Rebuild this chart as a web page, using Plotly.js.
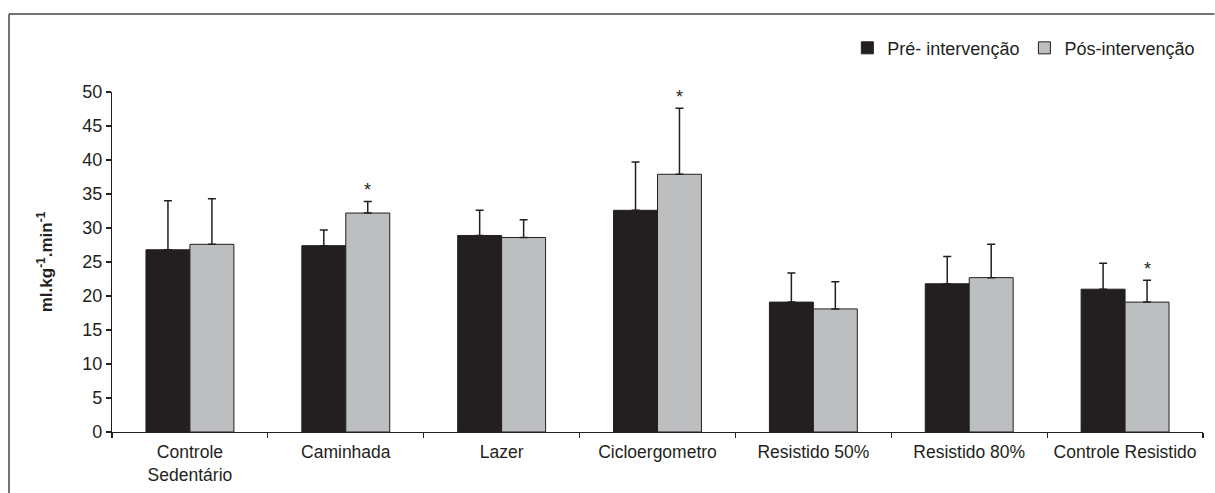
<!DOCTYPE html>
<html>
<head>
<meta charset="utf-8">
<script src="https://cdn.plot.ly/plotly-3.0.1.min.js"></script>
<style>html,body{margin:0;padding:0;background:#fff;overflow:hidden;}#chart{width:1215px;height:493px;}</style>
</head>
<body>
<div id="chart"></div>
<script>
const categories = ["Controle<br>Sedentário", "Caminhada", "Lazer", "Cicloergometro", "Resistido 50%", "Resistido 80%", "Controle Resistido"];
const preValues = [26.8, 27.4, 28.9, 32.6, 19.1, 21.8, 21.0];
const preErrors = [7.2, 2.3, 3.7, 7.1, 4.3, 4.0, 3.8];
const postValues = [27.6, 32.2, 28.6, 37.9, 18.1, 22.7, 19.1];
const postErrors = [6.7, 1.7, 2.6, 9.7, 4.0, 4.9, 3.2];
const seriesNames = ["Pré- intervenção", "Pós-intervenção"];
const significant = [false, true, false, true, false, false, true];

const ink = "#231f20";
const fontFam = "Liberation Sans, Arial, sans-serif";

const traces = [
  {
    type: "bar", name: seriesNames[0], x: categories, y: preValues,
    marker: {color: ink, line: {color: ink, width: 1}},
    error_y: {type: "data", array: preErrors, symmetric: false, arrayminus: preErrors.map(() => 0), color: ink, thickness: 1.5, width: 4}
  },
  {
    type: "bar", name: seriesNames[1], x: categories, y: postValues,
    marker: {color: "#bcbec0", line: {color: ink, width: 1}},
    error_y: {type: "data", array: postErrors, symmetric: false, arrayminus: postErrors.map(() => 0), color: ink, thickness: 1.5, width: 4}
  }
];

const annotations = [];
categories.forEach((c, i) => {
  if (significant[i]) {
    annotations.push({
      x: c, y: postValues[i] + postErrors[i], xref: "x", yref: "y",
      text: "*", showarrow: false, xshift: 22, yanchor: "bottom", yshift: -1,
      font: {family: fontFam, size: 18, color: ink}
    });
  }
});

const layout = {
  width: 1215, height: 493,
  margin: {l: 112, r: 12, t: 92, b: 61},
  paper_bgcolor: "#fff", plot_bgcolor: "#fff",
  font: {family: fontFam, size: 18, color: ink},
  barmode: "group", bargap: 0.436, bargroupgap: 0,
  showlegend: true,
  legend: {orientation: "h", x: 0.674, xanchor: "left", y: 1.129, yanchor: "middle",
           font: {family: fontFam, size: 18, color: ink}, itemwidth: 30, traceorder: "normal",
           bgcolor: "rgba(0,0,0,0)", tracegroupgap: 0},
  xaxis: {
    type: "category", showline: true, linecolor: ink, linewidth: 1.2,
    ticks: "outside", tickson: "boundaries", ticklen: 5, tickcolor: ink, tickwidth: 1.2,
    showgrid: false, zeroline: false, ticklabelstandoff: 4, tickangle: 0, automargin: false,
    tickfont: {family: fontFam, size: 17.5, color: ink}
  },
  yaxis: {
    range: [0, 50], dtick: 5, showline: true, linecolor: ink, linewidth: 1.2,
    ticks: "outside", ticklen: 5, tickcolor: ink, tickwidth: 1.2,
    showgrid: false, zeroline: false,
    tickfont: {family: fontFam, size: 18, color: ink},
    title: {text: "<b>ml.kg<sup>-1</sup>.min<sup>-1</sup></b>", font: {family: fontFam, size: 17, color: ink}, standoff: 25}
  },
  annotations: annotations,
  shapes: [
    {type: "line", xref: "paper", yref: "paper", x0: -0.0944, x1: 1.0105, y0: 1.2294, y1: 1.2294, line: {color: "#444", width: 1.5}},
    {type: "line", xref: "paper", yref: "paper", x0: -0.0944, x1: -0.0944, y0: 1.2294, y1: -0.2, line: {color: "#444", width: 1.5}}
  ]
};

Plotly.newPlot("chart", traces, layout, {displayModeBar: false, staticPlot: true});
</script>
</body>
</html>
